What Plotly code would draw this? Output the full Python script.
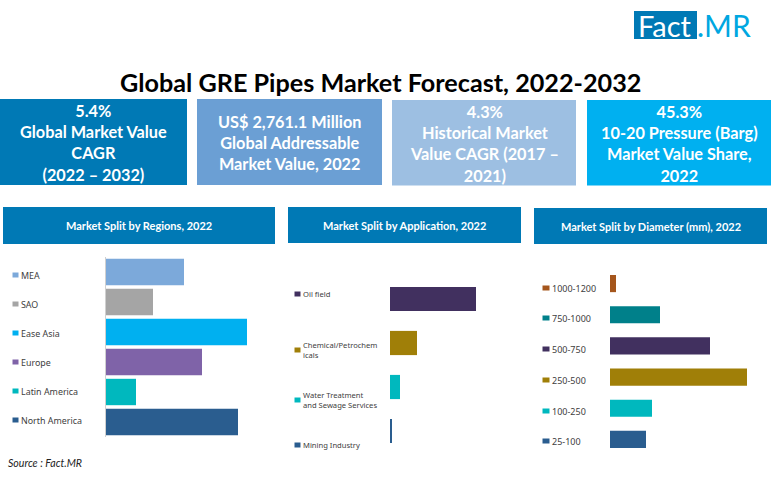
import plotly.graph_objects as go

W, H = 773, 479
FONT = "Lato"

regions = ["MEA", "SAO", "Ease Asia", "Europe", "Latin America", "North America"]
region_values = [78, 47, 141, 96, 30, 132]
region_colors = ["#7CA9DA", "#A5A5A5", "#00B0F0", "#7F63A8", "#00B8BE", "#2A5D8F"]

applications = ["Oil field", "Chemical/Petrochem<br>icals", "Water Treatment<br>and Sewage Services", "Mining Industry"]
application_values = [86, 27, 10, 2]
application_colors = ["#41305F", "#A07F08", "#00B8BE", "#2A5D8F"]

diameters = ["1000-1200", "750-1000", "500-750", "250-500", "100-250", "25-100"]
diameter_values = [6, 50, 100, 137, 42, 36]
diameter_colors = ["#A5561C", "#00808A", "#41305F", "#A07F08", "#00B8BE", "#2A5D8F"]

title = "Global GRE Pipes Market Forecast, 2022-2032"
kpi_texts = [
    "5.4%<br>Global Market Value<br>CAGR<br>(2022 – 2032)",
    "US$ 2,761.1 Million<br>Global Addressable<br>Market Value, 2022",
    "4.3%<br>Historical Market<br>Value CAGR (2017 –<br>2021)",
    "45.3%<br>10-20 Pressure (Barg)<br>Market Value Share,<br>2022",
]
headers = [
    "Market Split by Regions, 2022",
    "Market Split by Application, 2022",
    "Market Split by Diameter (mm), 2022",
]


def px(x):
    return x / W


def py(y):
    return 1 - y / H


fig = go.Figure()
panels = [
    (regions, region_values, region_colors, "", (106, 250), (257, 437), 144, 0.12),
    (applications, application_values, application_colors, "2", (390, 490), (277, 453), 100, 0.45),
    (diameters, diameter_values, diameter_colors, "3", (610, 750), (268, 455), 140, 0.45),
]
layout = {}
for cats, vals, cols, suffix, xd, yd, xmax, gap in panels:
    fig.add_trace(go.Bar(
        y=cats, x=vals, orientation="h", marker=dict(color=cols, line_width=0),
        xaxis="x" + suffix, yaxis="y" + suffix, showlegend=False, width=1 - gap,
    ))
    layout["xaxis" + suffix] = dict(
        domain=[px(xd[0]), px(xd[1])], range=[0, xmax], visible=False,
        anchor="y" + suffix, fixedrange=True,
    )
    layout["yaxis" + suffix] = dict(
        domain=[py(yd[1]), py(yd[0])], autorange="reversed", type="category",
        categoryorder="array", categoryarray=cats, showticklabels=False, ticks="",
        showgrid=False, zeroline=False, anchor="x" + suffix, fixedrange=True,
        showline=(suffix == ""), linecolor="#D0D0D0", linewidth=1,
    )

shapes = []
annotations = []


def rect(x0, y0, x1, y1, color):
    shapes.append(dict(type="rect", xref="paper", yref="paper", x0=px(x0), x1=px(x1),
                       y0=py(y1), y1=py(y0), fillcolor=color, line_width=0, layer="below"))


def text(x, y, s, size, color, anchor="center", bold=False, italic=False, family=FONT):
    if bold:
        s = "<b>" + s + "</b>"
    if italic:
        s = "<i>" + s + "</i>"
    annotations.append(dict(xref="paper", yref="paper", x=px(x), y=py(y), text=s, showarrow=False,
                            xanchor=anchor, yanchor="middle", align=anchor if anchor != "center" else "center",
                            font=dict(family=family, size=size, color=color), borderpad=0, borderwidth=0))


# logo
rect(634, 11, 697, 39, "#0079B5")
text(665, 25, "Fact", 29, "white")
text(697, 25, ".MR", 30, "#00A7E1", anchor="left")

text(380, 82, title, 25.2, "black", bold=True)

# KPI boxes
boxes = [(0, 99, 187, 185, "#0079B5"), (197, 99, 382, 185, "#6B9FD4"),
         (392, 100, 576, 185.5, "#9DBFE2"), (587, 100, 771, 185.5, "#00B0F0")]
for (x0, y0, x1, y1, c), t in zip(boxes, kpi_texts):
    rect(x0, y0, x1, y1, c)
    text((x0 + x1) / 2, (y0 + y1) / 2 + 0.5, t, 16.3, "white", bold=True)

# panel headers
hdr = [(3, 207, 275, 244), (288, 207, 521, 243), (534, 208, 767, 244)]
for (x0, y0, x1, y1), t in zip(hdr, headers):
    rect(x0, y0, x1, y1, "#0079B5")
    text((x0 + x1) / 2, (y0 + y1) / 2, t, 11, "white", bold=True)

# legend-like keys
LEG = "Noto Sans"
key_sets = [
    (regions, region_colors, [275, 304, 333, 362, 391, 420], 15.5, 21, 5, 8.9),
    (applications, application_colors, [294, 350, 400, 445], 297.5, 303, 5, 7.6),
    (diameters, diameter_colors, [288, 318, 349, 380, 411, 441], 546, 551.5, 6, 9),
]
for cats, cols, ys, kx, tx, hs, fs in key_sets:
    for c, col, y in zip(cats, cols, ys):
        rect(kx - hs / 2 - 0.5, y - 2.5, kx + hs / 2 + 0.5, y + 2.5, col)
        text(tx, y, c, fs, "#404040", anchor="left", family=LEG)

text(8, 463, "Source : Fact.MR", 10.6, "#222222", anchor="left", italic=True)

fig.update_layout(
    width=W, height=H, margin=dict(l=0, r=0, t=0, b=0), paper_bgcolor="white",
    plot_bgcolor="rgba(0,0,0,0)", barmode="overlay", showlegend=False,
    shapes=shapes, annotations=annotations, **layout,
)
fig.write_html("out.html", config={"displayModeBar": False},
               post_script="document.body.style.margin='0';")
